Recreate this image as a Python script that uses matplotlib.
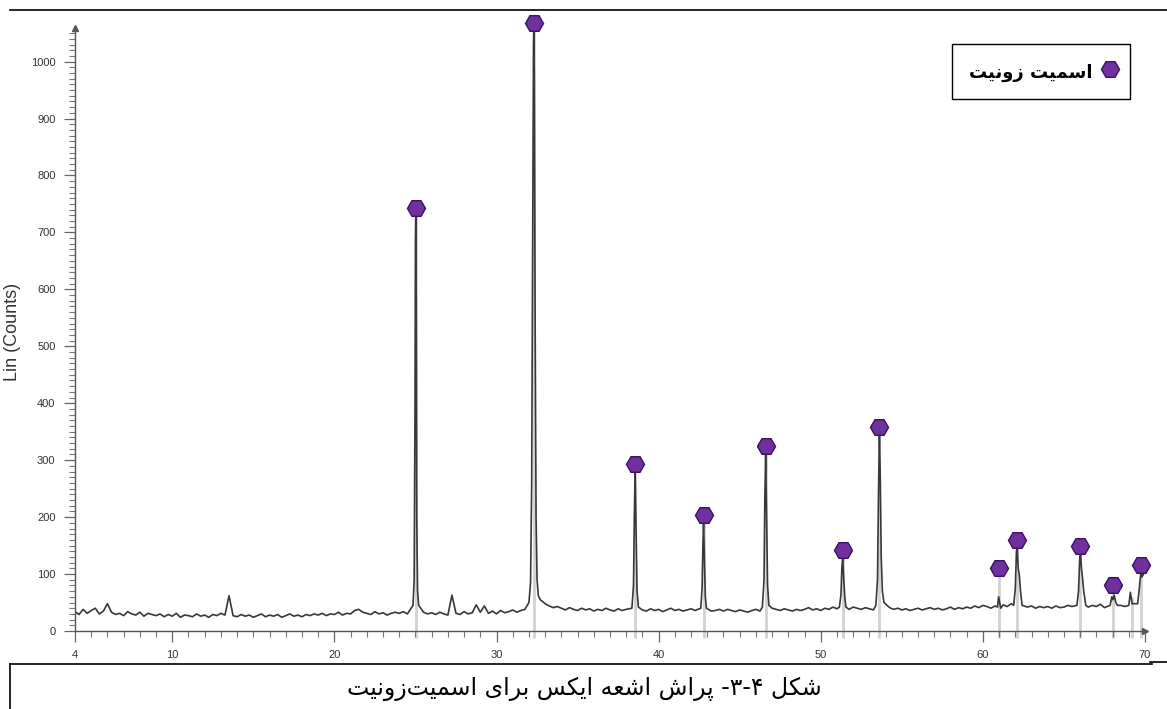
import re
import numpy as np
import matplotlib
matplotlib.use('Agg')
import matplotlib.pyplot as plt
from matplotlib.lines import Line2D
from matplotlib.ticker import MultipleLocator

# background counts, read every 0.25 deg from 4 to 70
bg_counts = [
    34, 29, 38, 31, 36, 40, 30, 35, 48, 33, 29, 31, 27, 34, 30, 28, 33, 26, 31, 29,
    27, 30, 25, 29, 26, 31, 24, 28, 27, 25, 30, 26, 28, 24, 29, 27, 31, 28, 62, 27,
    25, 29, 26, 28, 24, 27, 30, 25, 28, 26, 29, 24, 27, 30, 26, 28, 25, 29, 27, 30,
    28, 31, 27, 30, 29, 33, 28, 31, 30, 36, 38, 33, 31, 29, 34, 30, 32, 28, 31, 33,
    31, 34, 30, 33, 36, 40, 33, 30, 32, 29, 33, 30, 28, 63, 31, 29, 34, 30, 32, 46,
    33, 44, 31, 35, 30, 36, 32, 34, 37, 33, 36, 38, 50, 60, 70, 55, 48, 44, 41, 43,
    40, 37, 41, 38, 36, 40, 37, 39, 35, 38, 36, 40, 37, 35, 39, 36, 38, 40, 42, 40,
    37, 35, 39, 36, 38, 34, 37, 40, 36, 38, 35, 37, 39, 36, 38, 40, 37, 35, 36, 38,
    35, 38, 36, 34, 37, 35, 33, 36, 38, 35, 37, 36, 40, 38, 36, 39, 37, 35, 38, 36,
    38, 41, 37, 39, 36, 40, 38, 42, 39, 37, 41, 38, 42, 40, 38, 41, 39, 37, 40, 38,
    45, 41, 38, 40, 37, 39, 36, 38, 40, 37, 39, 41, 38, 40, 37, 39, 42, 38, 41, 39,
    42, 40, 44, 41, 45, 43, 40, 44, 42, 46, 43, 48, 44, 41, 45, 42, 44, 40, 43, 41,
    43, 40, 44, 41, 42, 45, 43, 40, 44, 46, 42, 45, 43, 47, 41, 44, 46, 48, 45, 43,
    44, 47, 45, 52, 56,
]

# points read along the diffraction peaks
peak_x = [24.85, 24.92, 24.97, 25.0, 25.02, 25.05, 25.08, 25.13, 25.2,
          32.0, 32.1, 32.17, 32.23, 32.28, 32.3, 32.33, 32.38, 32.44, 32.5, 32.58, 32.7,
          38.35, 38.45, 38.5, 38.55, 38.6, 38.67, 38.75,
          42.6, 42.68, 42.73, 42.77, 42.82, 42.88, 42.95,
          46.4, 46.5, 46.55, 46.6, 46.65, 46.72, 46.8,
          51.15, 51.25, 51.3, 51.35, 51.4, 51.48, 51.55,
          53.4, 53.5, 53.57, 53.62, 53.67, 53.73, 53.8, 53.9,
          60.9, 60.97, 61.02, 61.1,
          61.9, 62.0, 62.07, 62.12, 62.18, 62.25, 62.32, 62.42,
          65.8, 65.9, 65.97, 66.02, 66.08, 66.15, 66.22, 66.35,
          67.85, 67.95, 68.02, 68.1, 68.2, 68.3,
          69.0, 69.1, 69.2,
          69.55, 69.65, 69.75, 69.82, 69.9, 69.97]
peak_y = [45, 90, 380, 690, 732, 560, 200, 70, 45,
          50, 85, 260, 700, 1030, 1062, 980, 560, 200, 90, 62, 55,
          40, 80, 200, 280, 190, 70, 42,
          40, 75, 150, 190, 130, 60, 40,
          42, 90, 230, 312, 220, 80, 45,
          42, 65, 110, 130, 100, 60, 42,
          45, 90, 260, 345, 270, 130, 70, 50,
          42, 60, 52, 40,
          45, 75, 140, 145, 110, 98, 70, 45,
          45, 70, 125, 138, 110, 92, 70, 45,
          45, 60, 55, 63, 50, 45,
          45, 68, 48,
          48, 75, 104, 95, 100, 104]

# smithsonite reference markers
marker_x = [25.02, 32.3, 38.57, 42.77, 46.6, 51.35, 53.6, 61.0, 62.1, 66.0, 68.05, 69.75]
marker_y = [743, 1068, 293, 204, 325, 142, 358, 110, 159, 150, 80, 116]
extra_stick_x = [69.2]
extra_stick_y = [60]

legend_label = 'اسمیت زونیت'
caption = 'شکل ۳-۴- پراش اشعه ایکس برای اسمیت\u200cزونیت'

# simple arabic shaping (isolated, final, initial, medial)
FORMS = {
    'ا': ('\uFE8D', '\uFE8E', None, None),
    'ب': ('\uFE8F', '\uFE90', '\uFE91', '\uFE92'),
    'ت': ('\uFE95', '\uFE96', '\uFE97', '\uFE98'),
    'ر': ('\uFEAD', '\uFEAE', None, None),
    'ز': ('\uFEAF', '\uFEB0', None, None),
    'س': ('\uFEB1', '\uFEB2', '\uFEB3', '\uFEB4'),
    'ش': ('\uFEB5', '\uFEB6', '\uFEB7', '\uFEB8'),
    'ع': ('\uFEC9', '\uFECA', '\uFECB', '\uFECC'),
    'ل': ('\uFEDD', '\uFEDE', '\uFEDF', '\uFEE0'),
    'م': ('\uFEE1', '\uFEE2', '\uFEE3', '\uFEE4'),
    'ن': ('\uFEE5', '\uFEE6', '\uFEE7', '\uFEE8'),
    'ه': ('\uFEE9', '\uFEEA', '\uFEEB', '\uFEEC'),
    'و': ('\uFEED', '\uFEEE', None, None),
    'پ': ('\uFB56', '\uFB57', '\uFB58', '\uFB59'),
    'ک': ('\uFB8E', '\uFB8F', '\uFB90', '\uFB91'),
    'ی': ('\uFBFC', '\uFBFD', '\uFBFE', '\uFBFF'),
}


def rtl(text):
    out = []
    for i, c in enumerate(text):
        if c == '\u200c':
            continue
        if c not in FORMS:
            out.append(c)
            continue
        iso, fin, ini, med = FORMS[c]
        prev = text[i - 1] if i > 0 else ''
        nxt = text[i + 1] if i + 1 < len(text) else ''
        jp = prev in FORMS and FORMS[prev][2] is not None
        jn = ini is not None and nxt in FORMS
        if jp and jn:
            out.append(med)
        elif jp:
            out.append(fin)
        elif jn:
            out.append(ini)
        else:
            out.append(iso)
    parts = re.findall(r'[۰-۹]+(?:-[۰-۹]+)*|.', ''.join(out))
    return ''.join(reversed(parts))


# combine background and peaks
bg_x = 4 + 0.25 * np.arange(len(bg_counts))
bg_y = np.array(bg_counts, dtype=float)
px = np.array(peak_x)
keep = np.array([np.min(np.abs(px - x)) > 0.12 for x in bg_x])
x_all = np.concatenate([bg_x[keep], px])
y_all = np.concatenate([bg_y[keep], np.array(peak_y, dtype=float)])
order = np.argsort(x_all)
x_all, y_all = x_all[order], y_all[order]

plt.rcParams['font.family'] = ['Liberation Sans', 'DejaVu Sans']

fig = plt.figure(figsize=(11.67, 7.09), dpi=100)
ax = fig.add_axes([75 / 1167, 78 / 709, 1070 / 1167, 603 / 709])

stick_x = list(marker_x) + extra_stick_x
stick_y = list(marker_y) + extra_stick_y
ax.vlines(stick_x, -12, stick_y, color='#d2d2d2', lw=2, zorder=1, clip_on=False)
ax.plot(x_all, y_all, color='#383838', lw=1.2, zorder=2)
ax.plot(marker_x, marker_y, 'H', ls='none', ms=13, mfc='#7030A0', mec='#3b1260',
        mew=1, zorder=4, clip_on=False)

ax.set_xlim(4, 70)
ax.set_ylim(0, 1059)
ax.set_xticks([4, 10, 20, 30, 40, 50, 60, 70])
ax.xaxis.set_minor_locator(MultipleLocator(1))
ax.set_yticks(np.arange(0, 1001, 100))
ax.yaxis.set_minor_locator(MultipleLocator(10))
ax.tick_params(which='major', length=8, width=0.9, color='#666666',
               labelsize=8, labelcolor='#333333', pad=6)
ax.tick_params(which='minor', length=4, width=0.8, color='#777777')

for s in ['top', 'right']:
    ax.spines[s].set_visible(False)
for s in ['left', 'bottom']:
    ax.spines[s].set_color('#555555')
    ax.spines[s].set_linewidth(1.0)
ax.plot(1, 0, '>', color='#555555', ms=4, transform=ax.transAxes, clip_on=False)
ax.plot(0, 1, '^', color='#555555', ms=4, transform=ax.transAxes, clip_on=False)

ax.set_ylabel('Lin (Counts)', fontsize=13, color='#333333')
ax.yaxis.set_label_coords(-0.05, 0.496)

handle = Line2D([], [], marker='H', ls='none', ms=13, mfc='#7030A0', mec='#3b1260',
                label=rtl(legend_label))
leg = ax.legend(handles=[handle], loc='upper right', bbox_to_anchor=(0.986, 0.973),
                markerfirst=False, fancybox=False, edgecolor='black', framealpha=1,
                prop={'family': 'DejaVu Sans', 'weight': 'bold', 'size': 13},
                borderpad=0.9, handletextpad=0.8, handlelength=0.4, handleheight=1.5,
                borderaxespad=0)
leg.get_frame().set_linewidth(1.0)

# page lines around the figure
def fig_line(x0, y0, x1, y1, lw=1.2):
    fig.add_artist(Line2D([x0 / 1167, x1 / 1167], [1 - y0 / 709, 1 - y1 / 709],
                          transform=fig.transFigure, color='black', lw=lw))

fig_line(10, 10, 1167, 10)
fig_line(10, 664, 1152, 664)
fig_line(1150, 662, 1167, 662)
fig_line(10, 664, 10, 709)

fig.text(584 / 1167, 1 - 689 / 709, rtl(caption), ha='center', va='center',
         fontsize=17, family='DejaVu Sans', color='black')

fig.savefig('out.png', dpi=100)
